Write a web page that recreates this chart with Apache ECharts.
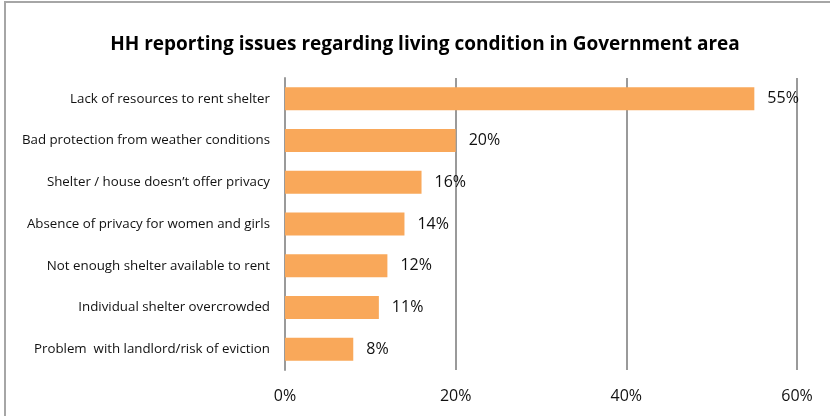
<!DOCTYPE html>
<html>
<head>
<meta charset="utf-8">
<script src="https://cdn.jsdelivr.net/npm/echarts@6/dist/echarts.min.js"></script>
<style>
  html, body { margin: 0; padding: 0; background: #fff; }
  #chart { width: 830px; height: 416px; }
</style>
</head>
<body>
<div id="chart"></div>
<script>
// Issues reported by households about living conditions (share of HH, %)
const categories = [
  'Lack of resources to rent shelter',
  'Bad protection from weather conditions',
  'Shelter / house doesn\u2019t offer privacy',
  'Absence of privacy for women and girls',
  'Not enough shelter available to rent',
  'Individual shelter overcrowded',
  'Problem  with landlord/risk of eviction'
];
const values = [55, 20, 16, 14, 12, 11, 8];
const xTicks = [0, 20, 40, 60];

const chart = echarts.init(document.getElementById('chart'), null, { renderer: 'canvas' });
const font = '"Open Sans", "Noto Sans", sans-serif';

chart.setOption({
  animation: false,
  backgroundColor: '#ffffff',
  title: {
    text: 'HH reporting issues regarding living condition in Government area',
    left: 420,
    top: 30,
    textAlign: 'center',
    textStyle: { fontFamily: font, fontSize: 19, fontWeight: 'bold', color: '#000' }
  },
  graphic: [{
    type: 'rect',
    shape: { x: 5, y: 2, width: 900, height: 500 },
    style: { fill: 'none', stroke: '#a6a6a6', lineWidth: 2 },
    silent: true
  }],
  grid: { left: 285, right: 33, top: 78, bottom: 46, containLabel: false },
  xAxis: {
    type: 'value',
    min: xTicks[0],
    max: xTicks[xTicks.length - 1],
    interval: 20,
    axisLine: { show: false },
    axisTick: { show: false },
    splitLine: { show: true, lineStyle: { color: '#9a9a9a', width: 2 } },
    axisLabel: {
      margin: 18,
      fontFamily: font,
      fontSize: 16,
      color: '#111',
      formatter: v => v + '%'
    }
  },
  yAxis: {
    type: 'category',
    data: categories,
    inverse: true,
    axisLine: { show: true, lineStyle: { color: '#9a9a9a', width: 2 } },
    axisTick: { show: false },
    axisLabel: { margin: 15, fontFamily: font, fontSize: 13.3, color: '#111' }
  },
  series: [{
    type: 'bar',
    data: values,
    barWidth: 23,
    itemStyle: { color: '#f9a85a' },
    label: {
      show: true,
      position: 'right',
      distance: 13,
      fontFamily: font,
      fontSize: 16,
      color: '#111',
      formatter: p => Math.round(p.value) + '%'
    }
  }]
});
</script>
</body>
</html>
